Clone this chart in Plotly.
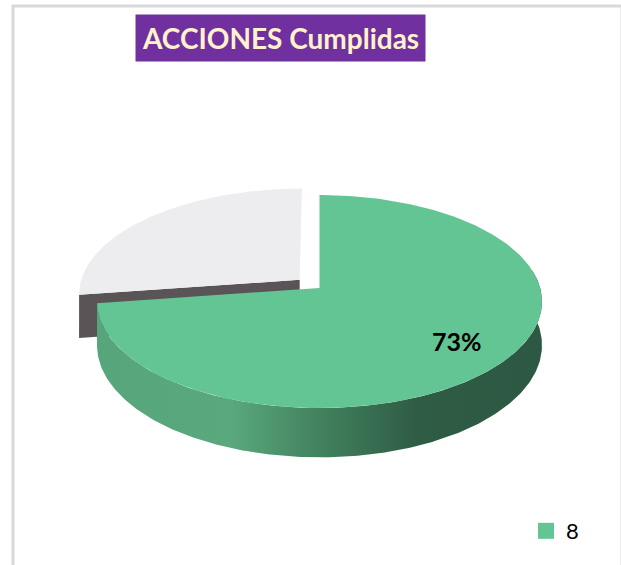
import numpy as np
import plotly.graph_objects as go

# ---- data ----
categories = ["8", "3"]
values = [8, 3]
top_colors = ["#63C594", "#EDEDEF"]
title_text = "ACCIONES Cumplidas"

# ---- 3D pie geometry (pixel space) ----
CX, CY = 319.5, 288.0
RX, RY = 220.7, 104.8
P = 0.127          # perspective factor
DEPTH = 43.0
EXPLODE = [0.0, 0.12]

def proj(u, v, h=0.0):
    s = 1.0 / (1.0 - P * v)
    return CX + RX * u * s, CY + (RY * v + DEPTH * h) * s

def uv(theta_deg, r=1.0, off=(0.0, 0.0)):
    t = np.radians(theta_deg)
    return off[0] + r * np.sin(t), off[1] - r * np.cos(t)

total = float(sum(values))
fracs = [v / total for v in values]
bounds = []
acc = 0.0
for f in fracs:
    bounds.append((acc * 360.0, (acc + f) * 360.0))
    acc += f

offsets = []
for (a0, a1), e in zip(bounds, EXPLODE):
    mid = np.radians((a0 + a1) / 2)
    offsets.append((e * np.sin(mid), -e * np.cos(mid)))

fig = go.Figure()

# ---- grey (exploded) slice: front radial face + top ----
a0, a1 = bounds[1]
off = offsets[1]
cu, cv = off
ru, rv = uv(a0, 1.0, off)
pts = [proj(cu, cv, 0), proj(ru, rv, 0), proj(ru, rv, 1), proj(cu, cv, 1)]
fig.add_trace(go.Scatter(x=[p[0] for p in pts], y=[p[1] for p in pts],
                         fill="toself", mode="lines", line=dict(width=0),
                         fillcolor="#5B5457", showlegend=False, hoverinfo="skip"))
th = np.linspace(a0, a1, 120)
u, v = uv(th, 1.0, off)
xs, ys = proj(u, v, 0)
cx0, cy0 = proj(cu, cv, 0)
fig.add_trace(go.Scatter(x=np.concatenate([[cx0], xs, [cx0]]),
                         y=np.concatenate([[cy0], ys, [cy0]]),
                         fill="toself", mode="lines", line=dict(width=0),
                         fillcolor=top_colors[1], showlegend=False, hoverinfo="skip"))

# ---- green slice: outer side + top ----
a0, a1 = bounds[0]
off = offsets[0]
th = np.linspace(max(a0, 80.0), a1, 200)
u, v = uv(th, 1.0, off)
xt, yt = proj(u, v, 0)
xb, yb = proj(u, v, 1)
fig.add_trace(go.Scatter(x=np.concatenate([xt, xb[::-1], [xt[0]]]),
                         y=np.concatenate([yt, yb[::-1], [yt[0]]]),
                         fill="toself", mode="lines", line=dict(width=0),
                         fillgradient=dict(type="horizontal",
                                           colorscale=[[0, "#56A57B"], [0.3, "#5AA87E"],
                                                       [0.52, "#3F7E5B"], [0.72, "#2F5C45"],
                                                       [1, "#2D5843"]]),
                         showlegend=False, hoverinfo="skip"))
th = np.linspace(a0, a1, 300)
u, v = uv(th, 1.0, off)
xs, ys = proj(u, v, 0)
cx0, cy0 = proj(off[0], off[1], 0)
fig.add_trace(go.Scatter(x=np.concatenate([[cx0], xs, [cx0]]),
                         y=np.concatenate([[cy0], ys, [cy0]]),
                         fill="toself", mode="lines", line=dict(width=0),
                         fillcolor=top_colors[0], showlegend=False, hoverinfo="skip"))

# ---- percentage label ----
mid = (bounds[0][0] + bounds[0][1]) / 2
lu, lv = uv(mid, 0.77, offsets[0])
lx, ly = proj(lu, lv, 0)
fig.add_trace(go.Scatter(x=[lx], y=[ly], mode="text",
                         text=[f"<b>{round(fracs[0] * 100)}%</b>"],
                         textfont=dict(size=25, color="black", family="Lato"),
                         showlegend=False, hoverinfo="skip"))

# ---- legend entry ----
fig.add_trace(go.Scatter(x=[None], y=[None], mode="markers",
                         marker=dict(symbol="square", size=17, color=top_colors[0]),
                         name=categories[0], showlegend=True))

fig.update_layout(
    width=621, height=565,
    margin=dict(l=0, r=0, t=0, b=0),
    paper_bgcolor="white", plot_bgcolor="white",
    xaxis=dict(range=[0, 621], visible=False, fixedrange=True),
    yaxis=dict(range=[565, 0], visible=False, fixedrange=True),
    legend=dict(x=526 / 621, y=1 - 510 / 565, xanchor="left", yanchor="top",
                font=dict(size=22, color="black", family="Lato"),
                itemwidth=30, tracegroupgap=0, bgcolor="rgba(0,0,0,0)"),
    annotations=[dict(x=280.5, y=38, xref="x", yref="y", showarrow=False,
                      text=f"<b>{title_text}</b>",
                      font=dict(size=28, color="#FFF2CC", family="Lato"),
                      bgcolor="#7030A0", borderpad=6)],
    shapes=[dict(type="rect", xref="x", yref="y", x0=13, y0=6, x1=622, y1=580,
                 line=dict(color="#D9D9D9", width=3), layer="below")],
)

fig.write_html("out.html", config={"displayModeBar": False},
               post_script="document.body.style.margin='0';")
